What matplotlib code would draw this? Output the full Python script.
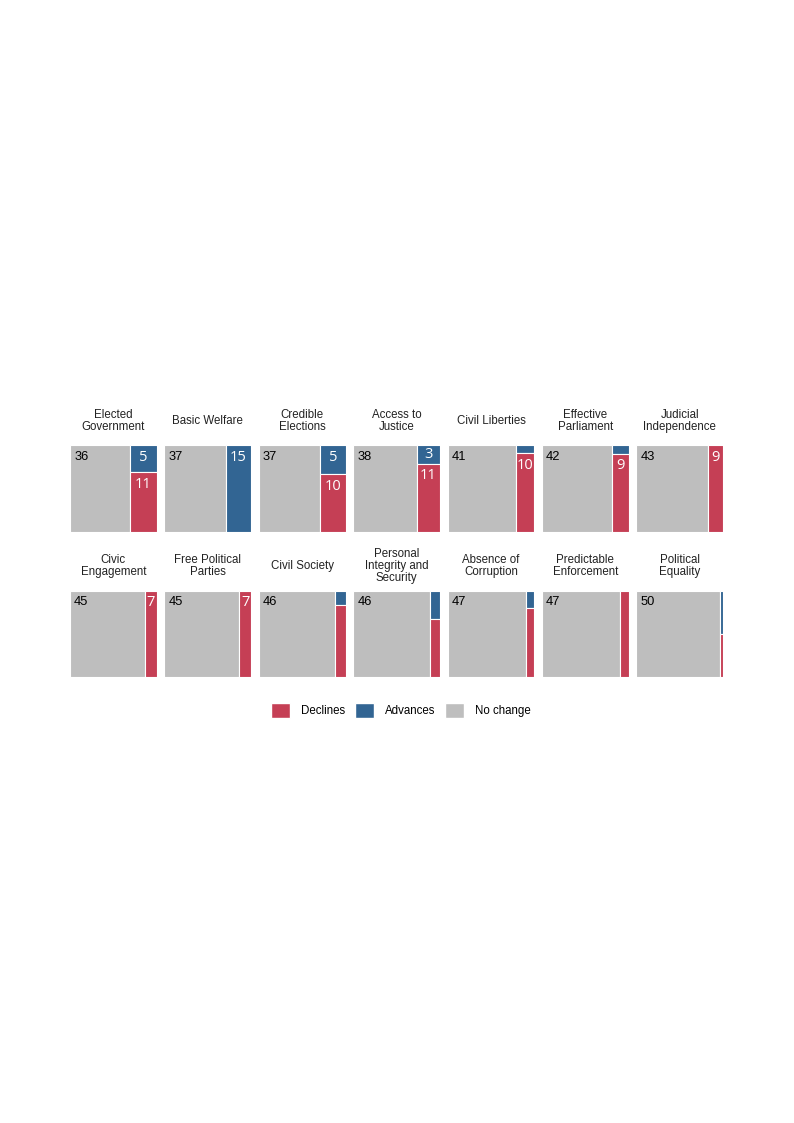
import matplotlib.pyplot as plt
from matplotlib.patches import Patch

titles = ['Elected\nGovernment', 'Basic Welfare', 'Credible\nElections', 'Access to\nJustice',
          'Civil Liberties', 'Effective\nParliament', 'Judicial\nIndependence',
          'Civic\nEngagement', 'Free Political\nParties', 'Civil Society',
          'Personal\nIntegrity and\nSecurity', 'Absence of\nCorruption',
          'Predictable\nEnforcement', 'Political\nEquality']
no_change = [36, 37, 37, 38, 41, 42, 43, 45, 45, 46, 46, 47, 47, 50]
advances = [5, 15, 5, 3, 1, 1, 0, 0, 0, 1, 2, 1, 0, 1]
declines = [11, 0, 10, 11, 10, 9, 9, 7, 7, 5, 4, 4, 5, 1]

RED = '#C53F55'
BLUE = '#326593'
GREY = '#BEBEBE'

W, H = 794, 1123
fig = plt.figure(figsize=(W / 100, H / 100), dpi=100)

size = 86.7
step = 94.4
left0 = 70
row_tops = [445.3, 590.5]

for i, title in enumerate(titles):
    row, col = divmod(i, 7)
    x0 = left0 + col * step
    y0 = row_tops[row]
    ax = fig.add_axes([x0 / W, 1 - (y0 + size) / H, size / W, size / H])
    total = no_change[i] + advances[i] + declines[i]
    ax.set_xlim(0, total)
    ax.set_ylim(0, total)
    ax.axis('off')

    ax.bar(0, total, width=no_change[i], align='edge', color=GREY, edgecolor='white', linewidth=0.8)
    changed = advances[i] + declines[i]
    blue_h = advances[i] / changed * total
    red_h = declines[i] / changed * total
    if advances[i]:
        ax.bar(no_change[i], blue_h, width=changed, bottom=total - blue_h, align='edge',
               color=BLUE, edgecolor='white', linewidth=0.8)
    if declines[i]:
        ax.bar(no_change[i], red_h, width=changed, bottom=0, align='edge',
               color=RED, edgecolor='white', linewidth=0.8)

    ax.annotate(str(no_change[i]), (0, total), xytext=(3, -4), textcoords='offset points',
                ha='left', va='top', fontsize=9.3, family='Liberation Sans', color='black')

    # white labels inside the coloured column
    cx = no_change[i] + changed / 2
    off = 12 / size * total
    for val, top, h in [(advances[i], total, blue_h), (declines[i], total - blue_h, red_h)]:
        if changed >= 7 and val >= 3:
            ax.text(cx, top - min(h / 2, off), str(val), ha='center', va='center',
                    fontsize=10.5, family='Open Sans', color='white')

    fig.text((x0 + size / 2) / W, 1 - (y0 - 24.5) / H, title, ha='center', va='center',
             fontsize=8.3, family='Liberation Sans', color='#222222', linespacing=1.0)

handles = [Patch(facecolor=RED, edgecolor='white'), Patch(facecolor=BLUE, edgecolor='white'),
           Patch(facecolor=GREY, edgecolor='white')]
fig.legend(handles, ['Declines', 'Advances', 'No change'], loc='center',
           bbox_to_anchor=(401 / W, 1 - 710.5 / H), ncol=3, frameon=False,
           prop={'family': 'Liberation Sans', 'size': 8.3},
           handlelength=1.65, handleheight=1.65, handletextpad=0.9, columnspacing=0.9)

fig.savefig('out.png', dpi=100)
